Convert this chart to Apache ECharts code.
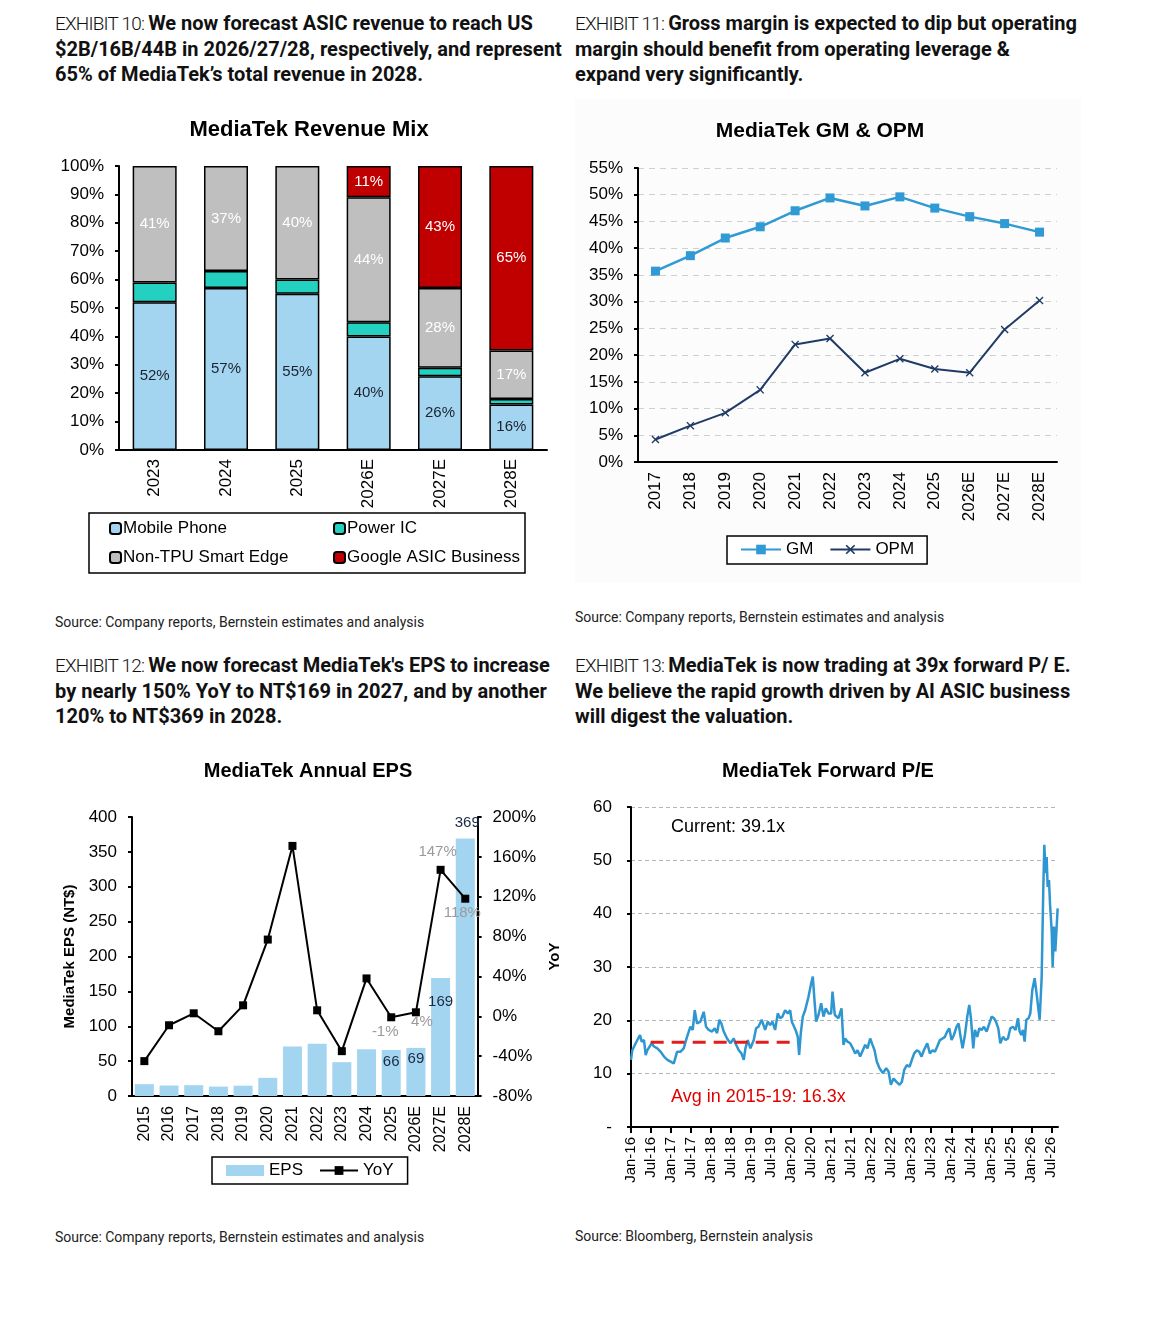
<!DOCTYPE html>
<html>
<head>
<meta charset="utf-8">
<script src="https://cdn.jsdelivr.net/npm/echarts@6/dist/echarts.min.js"></script>
<style>
  body { margin: 0; background: #fff; width: 1158px; height: 1324px; position: relative; overflow: hidden; }
  .head { position: absolute; font-family: Roboto, 'Noto Sans', sans-serif; font-size: 20px; line-height: 25.5px; color: #111; white-space: nowrap; }
  .head .ex { font-weight: 300; font-size: 19px; letter-spacing: -0.8px; }
  .head b { font-weight: 700; }
  .src { position: absolute; font-family: Roboto, 'Noto Sans', sans-serif; font-size: 14px; color: #222; white-space: nowrap; }
  .chart { position: absolute; }
</style>
</head>
<body>
<div class="head" style="left:55px;top:11px"><span class="ex">EXHIBIT 10: </span><b>We now forecast ASIC revenue to reach US<br>$2B/16B/44B in 2026/27/28, respectively, and represent<br>65% of MediaTek’s total revenue in 2028.</b></div>
<div class="head" style="left:575px;top:11px"><span class="ex">EXHIBIT 11: </span><b>Gross margin is expected to dip but operating<br>margin should benefit from operating leverage &amp;<br>expand very significantly.</b></div>
<div class="head" style="left:55px;top:653px"><span class="ex">EXHIBIT 12: </span><b>We now forecast MediaTek's EPS to increase<br>by nearly 150% YoY to NT$169 in 2027, and by another<br>120% to NT$369 in 2028.</b></div>
<div class="head" style="left:575px;top:653px"><span class="ex">EXHIBIT 13: </span><b>MediaTek is now trading at 39x forward P/ E.<br>We believe the rapid growth driven by AI ASIC business<br>will digest the valuation.</b></div>

<div id="mix" class="chart" style="left:50px;top:100px;width:510px;height:490px"></div>
<div id="margin" class="chart" style="left:575px;top:99px;width:506px;height:484px;background:#fcfcfc"></div>
<div id="eps" class="chart" style="left:50px;top:745px;width:520px;height:460px"></div>
<div id="pe" class="chart" style="left:575px;top:745px;width:510px;height:470px"></div>

<div class="src" style="left:55px;top:614px">Source: Company reports, Bernstein estimates and analysis</div>
<div class="src" style="left:575px;top:609px">Source: Company reports, Bernstein estimates and analysis</div>
<div class="src" style="left:55px;top:1229px">Source: Company reports, Bernstein estimates and analysis</div>
<div class="src" style="left:575px;top:1228px">Source: Bloomberg, Bernstein analysis</div>

<script>
// ---- Exhibit 10: revenue mix (%)
const mixYears = ['2023', '2024', '2025', '2026E', '2027E', '2028E'];
const mobilePhone = [52, 57, 55, 40, 26, 16];
const powerIC = [7, 6, 5, 5, 3, 2];
const nonTpuEdge = [41, 37, 40, 44, 28, 17];
const googleAsic = [null, null, null, 11, 43, 65];

// ---- Exhibit 11: GM & OPM (%)
const marginYears = ['2017', '2018', '2019', '2020', '2021', '2022', '2023', '2024', '2025', '2026E', '2027E', '2028E'];
const grossMargin = [35.7, 38.6, 41.9, 44.0, 47.0, 49.4, 47.9, 49.6, 47.5, 45.9, 44.6, 43.0];
const opMargin = [4.2, 6.8, 9.2, 13.5, 22.0, 23.1, 16.7, 19.3, 17.4, 16.7, 24.8, 30.2];

// ---- Exhibit 12: EPS (NT$) and YoY (%)
const epsYears = ['2015', '2016', '2017', '2018', '2019', '2020', '2021', '2022', '2023', '2024', '2025', '2026E', '2027E', '2028E'];
const epsValue = [17, 15, 15.5, 13.5, 14.8, 26, 71, 75, 48.5, 67, 66, 69, 169, 369];
const epsYoY = [-45, -9, 3, -15, 11, 77, 171, 6, -35, 38, -1, 4, 147, 118];

// ---- Exhibit 13: forward P/E, x = months since Jan-16
const peMonth = [0, 0.4, 1.4, 2.7, 3.2, 3.9, 4.4, 4.9, 5.6, 6.2, 6.9, 7.9, 8.9, 9.9, 10.9, 11.9, 12.8, 13.8, 14.8, 15.8,
  16.8, 17.8, 18.5, 19.1, 19.8, 20.8, 21.8, 22.5, 23.3, 24.3, 25.1, 25.8, 26.5, 27.1, 27.8, 28.8, 29.8, 30.8, 31.3, 32.3,
  33.1, 33.8, 34.3, 35.0, 35.8, 36.8, 37.5, 38.2, 39.2, 40.2, 41.0, 41.7, 42.4, 43.2, 44.0, 44.7, 45.4, 46.2, 47.0, 47.7,
  48.2, 48.9, 49.5, 50.0, 50.4, 50.9, 51.5, 52.2, 53.2, 54.0, 54.5, 55.0, 55.5, 56.2, 57.0, 57.7, 58.4, 59.2, 60.0, 60.4,
  61.1, 62.2, 63.1, 63.4, 63.7, 64.2, 64.9, 65.7, 66.5, 67.2, 67.9, 68.7, 69.5, 70.2, 70.9, 71.7, 72.4, 73.0, 73.7, 74.5,
  75.5, 76.5, 77.2, 77.9, 78.7, 79.5, 80.5, 81.2, 81.9, 82.7, 83.5, 84.2, 84.9, 85.7, 86.4, 87.1, 87.8, 88.8, 89.6, 90.4,
  91.1, 91.8, 92.6, 93.4, 94.1, 94.8, 95.4, 96.1, 96.8, 97.6, 98.2, 98.8, 99.4, 100.1, 100.8, 101.4, 101.9, 102.6, 103.1, 103.8,
  104.4, 105.1, 105.8, 106.6, 107.4, 108.1, 108.8, 109.4, 110.1, 110.7, 111.5, 112.3, 113.0, 113.7, 114.5, 115.3, 116.0, 116.5, 117.0, 117.5,
  118.0, 118.5, 119.2, 119.7, 120.3, 121.0, 121.7, 122.5, 123.1, 123.6, 123.9, 124.3, 124.6, 124.9, 125.3, 125.6, 126.1, 126.4, 126.8, 127.2,
  127.6, 127.9];
const peValue = [12.6, 14.4, 15.7, 17.25, 16, 16.3, 13.5, 14.4, 15.1, 15.7, 15.1, 14.75, 14.1, 13.2, 12.6, 12.25, 11.9, 14.1, 14.1, 14.75,
  16.9, 18.8, 18.2, 21.9, 19.4, 19.75, 21.6, 18.8, 18.2, 17.9, 18.5, 17.6, 20.1, 19.4, 17.9, 16.6, 15.7, 16.6, 15.7, 14.4,
  13.8, 12.6, 14.75, 16.3, 14.75, 16.3, 18.5, 18.8, 20.1, 18.2, 19.75, 19.1, 19.75, 18.2, 21.3, 20.4, 20.7, 21.9, 21.3, 21.9,
  19.75, 18.8, 17.9, 16.9, 13.5, 17.6, 20.7, 21.9, 24.4, 26.9, 28.2, 23.8, 19.75, 21, 23.2, 20.7, 22.25, 21.3, 21.3, 25.4,
  21, 20.4, 22.25, 22.3, 15.4, 16.6, 16, 15.7, 14.75, 13.8, 14.4, 13.2, 14.4, 15.4, 14.75, 16.6, 15.4, 14.4, 12.25, 11,
  10.1, 11, 10.4, 7.9, 9.1, 8.5, 7.9, 8.5, 10.7, 11.6, 11.3, 12.6, 13.8, 14.4, 14.1, 13.2, 14.4, 15.7, 13.8, 14.4,
  14.1, 15.1, 16.3, 16.6, 16.9, 17.9, 18.5, 16.3, 17.25, 18.8, 19.4, 16.9, 14.75, 17.25, 20.7, 22.9, 20.4, 14.75, 18.2, 16.9,
  18.5, 18.2, 18.8, 17.9, 19.4, 20.7, 20.4, 19.75, 18.5, 15.7, 16.9, 16.3, 16.6, 18.5, 18.8, 18.2, 20.4, 17.9, 17.25, 18.2,
  16, 20.1, 20.4, 21.3, 25.7, 27.9, 24.4, 20.1, 28, 45, 52.9, 47.6, 50.6, 45, 46.3, 41.9, 36.9, 30, 37.6, 32.9,
  37.6, 41];
const peTickLabels = ['Jan-16', 'Jul-16', 'Jan-17', 'Jul-17', 'Jan-18', 'Jul-18', 'Jan-19', 'Jul-19', 'Jan-20', 'Jul-20', 'Jan-21',
  'Jul-21', 'Jan-22', 'Jul-22', 'Jan-23', 'Jul-23', 'Jan-24', 'Jul-24', 'Jan-25', 'Jul-25', 'Jan-26', 'Jul-26'];
const avgMonths = [5.9, 47.9];
const avgPE = 15.9;

const FONT = "'Liberation Sans', Arial, sans-serif";
const axisLineStyle = { color: '#000', width: 2 };

function titleText(text, x, y, size) {
  return {
    type: 'text', x: x, y: y,
    style: { text: text, font: 'bold ' + size + 'px ' + FONT, fill: '#000', align: 'center', verticalAlign: 'middle' }
  };
}

// ---------- Revenue mix ----------
const mixChart = echarts.init(document.getElementById('mix'));
function mixSeries(name, data, color, labelColor) {
  return {
    name: name, type: 'bar', stack: 'mix', barWidth: 44, data: data,
    itemStyle: { color: color, borderColor: '#000', borderWidth: 1.5 },
    label: {
      show: !!labelColor, position: 'inside', color: labelColor, fontSize: 15, fontFamily: FONT,
      formatter: p => (p.value ? p.value + '%' : '')
    }
  };
}
mixChart.setOption({
  animation: false,
  textStyle: { fontFamily: FONT },
  graphic: [
    titleText('MediaTek Revenue Mix', 259, 30, 22),
    { type: 'rect', shape: { x: 39, y: 413, width: 436, height: 60 }, style: { fill: '#fff', stroke: '#000', lineWidth: 1.5 }, z: -1 }
  ],
  grid: { left: 69, top: 66, width: 428, height: 284 },
  xAxis: {
    type: 'category', data: mixYears,
    axisLine: { lineStyle: axisLineStyle },
    axisTick: { length: 6, lineStyle: { color: '#000', width: 2 } },
    axisLabel: { rotate: 90, fontSize: 17, color: '#000', margin: 9 }
  },
  yAxis: {
    type: 'value', min: 0, max: 100, interval: 10,
    axisLine: { show: true, lineStyle: axisLineStyle },
    axisTick: { show: true, length: 4, lineStyle: { color: '#000', width: 2 } },
    splitLine: { show: false },
    axisLabel: { formatter: '{value}%', fontSize: 17, color: '#000', margin: 15 }
  },
  legend: [
    { data: ['Mobile Phone', 'Non-TPU Smart Edge'], orient: 'vertical', left: 54, top: 415, itemGap: 12,
      itemWidth: 11, itemHeight: 11, textStyle: { fontSize: 17, color: '#000', padding: [0, 0, 0, -3] } },
    { data: ['Power IC', 'Google ASIC Business'], orient: 'vertical', left: 278, top: 415, itemGap: 12,
      itemWidth: 11, itemHeight: 11, textStyle: { fontSize: 17, color: '#000', padding: [0, 0, 0, -3] } }
  ],
  series: [
    mixSeries('Mobile Phone', mobilePhone, '#a3d5f0', '#1b2230'),
    mixSeries('Power IC', powerIC, '#24d0c0', null),
    mixSeries('Non-TPU Smart Edge', nonTpuEdge, '#bfbfbf', '#ffffff'),
    mixSeries('Google ASIC Business', googleAsic, '#c00000', '#ffffff')
  ]
});

// ---------- GM & OPM ----------
const marginChart = echarts.init(document.getElementById('margin'));
const crossSymbol = 'path://M0,1.2L1.2,0L5,3.8L8.8,0L10,1.2L6.2,5L10,8.8L8.8,10L5,6.2L1.2,10L0,8.8L3.8,5Z';
marginChart.setOption({
  animation: false,
  textStyle: { fontFamily: FONT },
  graphic: [titleText('MediaTek GM & OPM', 245, 32, 21)],
  grid: { left: 63, top: 69, width: 419, height: 294 },
  xAxis: {
    type: 'category', data: marginYears,
    axisLine: { lineStyle: axisLineStyle },
    axisTick: { length: 6, lineStyle: { color: '#000', width: 2 } },
    axisLabel: { rotate: 90, fontSize: 17, color: '#000', margin: 10 }
  },
  yAxis: {
    type: 'value', min: 0, max: 55, interval: 5,
    axisLine: { show: true, lineStyle: axisLineStyle },
    axisTick: { show: true, length: 4, lineStyle: { color: '#000', width: 2 } },
    splitLine: { lineStyle: { color: '#cfcfcf', type: [6, 5], width: 1 } },
    axisLabel: { formatter: '{value}%', fontSize: 17, color: '#000', margin: 15 }
  },
  legend: {
    left: 152, top: 437, padding: [5, 13, 6, 13], itemGap: 16, itemWidth: 40, itemHeight: 12,
    borderColor: '#000', borderWidth: 1.5, backgroundColor: '#fff',
    textStyle: { fontSize: 17, color: '#000' }
  },
  series: [
    { name: 'GM', type: 'line', data: grossMargin, symbol: 'rect', symbolSize: 9,
      lineStyle: { color: '#2f9ad4', width: 2.5 }, itemStyle: { color: '#2f9ad4' } },
    { name: 'OPM', type: 'line', data: opMargin, symbol: crossSymbol, symbolSize: 8,
      lineStyle: { color: '#1f3b66', width: 2 }, itemStyle: { color: '#1f3b66' } }
  ]
});

// ---------- Annual EPS ----------
const epsChart = echarts.init(document.getElementById('eps'));
const epsLabelTweak = {
  '2025': { position: 'insideTop', distance: 4 },
  '2026E': { position: 'insideTop', distance: 3 },
  '2027E': { position: 'insideTop', distance: 16 },
  '2028E': { position: 'top', distance: 8, offset: [2, 0] }
};
const yoyLabelTweak = {
  '2025': [-6, 15],
  '2026E': [6, 10],
  '2027E': [-3, -18],
  '2028E': [-3, 14]
};
epsChart.setOption({
  animation: false,
  textStyle: { fontFamily: FONT },
  graphic: [titleText('MediaTek Annual EPS', 258, 26, 20)],
  grid: { left: 82, top: 72, width: 346, height: 279 },
  xAxis: {
    type: 'category', data: epsYears,
    axisLine: { lineStyle: axisLineStyle },
    axisTick: { length: 6, lineStyle: { color: '#000', width: 2 } },
    axisLabel: { rotate: 90, fontSize: 16, color: '#000', margin: 10 }
  },
  yAxis: [
    { type: 'value', min: 0, max: 400, interval: 50,
      name: 'MediaTek EPS (NT$)', nameLocation: 'middle', nameGap: 49,
      nameTextStyle: { fontSize: 15, fontWeight: 'bold', color: '#000' },
      axisLine: { show: true, lineStyle: axisLineStyle },
      axisTick: { show: true, length: 4, lineStyle: { color: '#000', width: 2 } },
      splitLine: { show: false },
      axisLabel: { fontSize: 17, color: '#000', margin: 15 } },
    { type: 'value', min: -80, max: 200, interval: 40, position: 'right',
      name: 'YoY', nameLocation: 'middle', nameGap: 60, nameRotate: 90,
      nameTextStyle: { fontSize: 15, fontWeight: 'bold', color: '#000' },
      axisLine: { show: true, lineStyle: axisLineStyle },
      axisTick: { show: true, length: 4, lineStyle: { color: '#000', width: 2 } },
      splitLine: { show: false },
      axisLabel: { formatter: '{value}%', fontSize: 17, color: '#000', margin: 15 } }
  ],
  legend: {
    left: 162, top: 412, padding: [5, 14, 5, 14], itemGap: 16,
    borderColor: '#000', borderWidth: 1.5,
    textStyle: { fontSize: 17, color: '#000' },
    data: [
      { name: 'EPS', icon: 'rect', itemStyle: { color: '#a3d5f0' } },
      { name: 'YoY' }
    ],
    itemWidth: 38, itemHeight: 11
  },
  series: [
    { name: 'EPS', type: 'bar', barWidth: 19, yAxisIndex: 0,
      itemStyle: { color: '#a3d5f0' },
      data: epsValue.map((v, i) => {
        const tw = epsLabelTweak[epsYears[i]];
        return tw ? { value: v, label: Object.assign({ show: true, color: '#1b2a44', fontSize: 15 }, tw) } : v;
      }) },
    { name: 'YoY', type: 'line', yAxisIndex: 1, symbol: 'rect', symbolSize: 8,
      lineStyle: { color: '#000', width: 2 }, itemStyle: { color: '#000' },
      data: epsYoY.map((v, i) => {
        const off = yoyLabelTweak[epsYears[i]];
        return off ? { value: v, label: { show: true, position: 'inside', offset: off, color: '#9a9a9a', fontSize: 15, formatter: '{c}%' } } : v;
      }) }
  ]
});

// ---------- Forward P/E ----------
const peChart = echarts.init(document.getElementById('pe'));
peChart.setOption({
  animation: false,
  textStyle: { fontFamily: FONT },
  graphic: [
    titleText('MediaTek Forward P/E', 253, 26, 20),
    { type: 'text', x: 96, y: 82, style: { text: 'Current: 39.1x', font: '18px ' + FONT, fill: '#000', verticalAlign: 'middle' } },
    { type: 'text', x: 96, y: 352, style: { text: 'Avg in 2015-19: 16.3x', font: '18px ' + FONT, fill: '#e00000', verticalAlign: 'middle' } }
  ],
  grid: { left: 56, top: 62, width: 427, height: 320 },
  xAxis: {
    type: 'value', min: 0, max: 128, interval: 6,
    axisLine: { lineStyle: axisLineStyle },
    axisTick: { length: 6, lineStyle: { color: '#000', width: 2 } },
    splitLine: { show: false },
    axisLabel: {
      rotate: 90, fontSize: 15, color: '#000', margin: 10, showMaxLabel: false,
      formatter: v => (v % 6 === 0 ? peTickLabels[v / 6] || '' : '')
    }
  },
  yAxis: {
    type: 'value', min: 0, max: 60, interval: 10,
    axisLine: { show: true, lineStyle: axisLineStyle },
    axisTick: { show: true, length: 4, lineStyle: { color: '#000', width: 2 } },
    splitLine: { lineStyle: { color: '#b5b5b5', type: [4, 3], width: 1 } },
    axisLabel: { fontSize: 17, color: '#000', margin: 19, formatter: v => (v === 0 ? '-' : v) }
  },
  series: [
    { type: 'line', symbol: 'none', data: peMonth.map((m, i) => [m, peValue[i]]),
      lineStyle: { color: '#2e96d0', width: 2.5 } },
    { type: 'line', symbol: 'none', data: avgMonths.map(m => [m, avgPE]),
      lineStyle: { color: '#e41c1c', width: 3, type: [13, 8] } }
  ]
});
</script>
</body>
</html>
